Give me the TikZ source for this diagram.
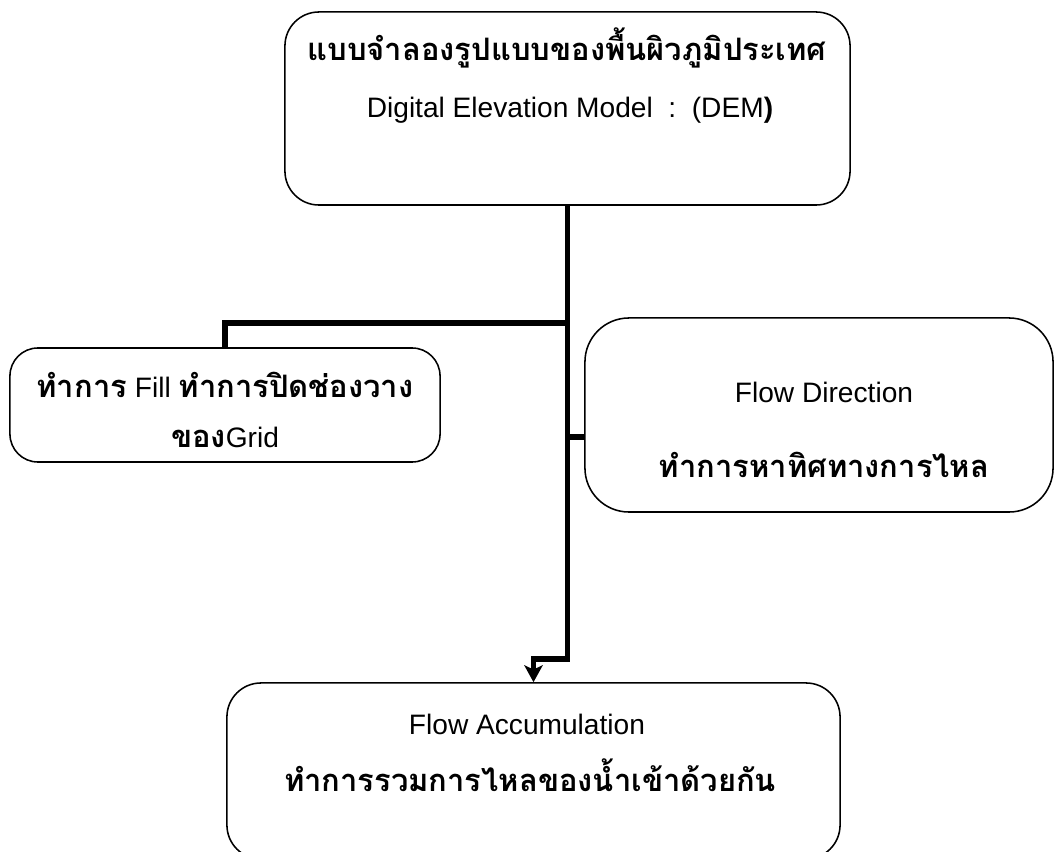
\documentclass[tikz,border=0pt]{standalone}
\usepackage{fontspec}
\setmainfont{Liberation Sans}
\newfontfamily\thai[Script=Thai]{Loma}
\usetikzlibrary{arrows.meta,calc}
\begin{document}
\begin{tikzpicture}[x=0.025cm,y=-0.025cm,
  box/.style={draw,line width=1.1pt,inner sep=0pt,fill=none},
  txt/.style={inner sep=0pt,font=\fontsize{20}{24}\selectfont},
  th/.style={inner sep=0pt,font=\thai\bfseries\fontsize{22}{26}\selectfont},
  thi/.style={font=\thai\bfseries\fontsize{22}{26}\selectfont},
  conn/.style={line width=4pt},
  arr/.style={conn,-{Stealth[length=12pt,width=13pt,inset=3pt]}}]
\clip (0,0) rectangle (1055,852);
\fill[white] (0,0) rectangle (1055,852);
% boxes
\node[box,rounded corners=0.85cm,minimum width=14.125cm,minimum height=4.825cm] (dem) at (567.5,108.5) {};
\node[box,rounded corners=0.7cm,minimum width=10.75cm,minimum height=2.85cm] (fill) at (225,405) {};
\node[box,rounded corners=1.1cm,minimum width=11.7cm,minimum height=4.85cm] (dir) at (819,415) {};
\node[box,rounded corners=0.85cm,minimum width=15.325cm,minimum height=4.4cm] (acc) at (533.5,771) {};
% texts
\node[th] (demth) at (567,48) {แบบจำลองรูปแบบของพื้นผิวภูมิประเทศ};
\node[txt] (demen) at (570,110) {Digital Elevation Model\ \ :\ \ (DEM\textbf{)}};
\node[txt] (fillt) at (225,385) {{\thai\bfseries\fontsize{22}{26}\selectfont ทำการ} Fill {\thai\bfseries\fontsize{22}{26}\selectfont ทำการปิดช่องวาง}};
\node[txt] (fillg) at (225,437) {{\thai\bfseries\fontsize{22}{26}\selectfont ของ}Grid};
\node[txt] (diren) at (824,392) {Flow Direction};
\node[th] (dirth) at (824,465) {ทำการหาทิศทางการไหล};
\node[txt] (accen) at (527,724) {Flow Accumulation};
\node[th] (accth) at (530,775) {ทำการรวมการไหลของน้ำเข้าด้วยกัน};
% connectors
\coordinate (jl) at (567.5,323);
\coordinate (jr) at (567.5,437);
\coordinate (bend) at (567.5,659);
\draw[conn] (jl) -| (fill.north);
\draw[conn] (jr) -- (dir.west |- jr);
\draw[arr] (dem.south) -- (bend) -| (acc.north);
\end{tikzpicture}
\end{document}
